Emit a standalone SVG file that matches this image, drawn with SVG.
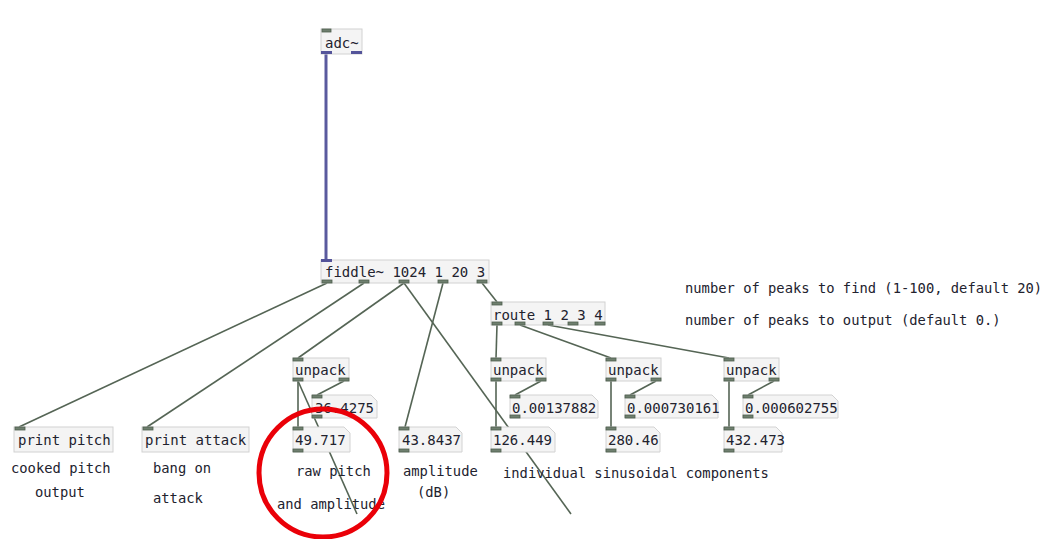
<svg xmlns="http://www.w3.org/2000/svg" width="1047" height="539" viewBox="0 0 1047 539">
  <style>
    .box { fill: #f4f4f4; stroke: #d2d2d2; stroke-width: 1; }
    .num { fill: #f4f4f4; stroke: #d2d2d2; stroke-width: 1; }
    .io { fill: #6f7f6f; stroke: #4f5f4f; stroke-width: 0.8; }
    .sig { fill: #54549a; }
    .t { font-family: "DejaVu Sans Mono", "Liberation Mono", monospace; font-size: 14px; fill: #22222e; }
    .c { font-size: 13.8px; }
    .wire { stroke: #556555; stroke-width: 1.6; fill: none; }
    .swire { stroke: #5a5a9e; stroke-width: 3; fill: none; }
  </style>

  <rect width="1047" height="539" fill="#ffffff"/>

  <!-- connectors -->
  <g id="connectors">
    <line class="swire" x1="326" y1="54" x2="326" y2="261"/>
    <line class="wire" x1="327" y1="283" x2="19" y2="427"/>
    <line class="wire" x1="364" y1="283" x2="147" y2="427"/>
    <line class="wire" x1="404" y1="283" x2="298" y2="358"/>
    <line class="wire" x1="404" y1="283" x2="571" y2="514"/>
    <line class="wire" x1="443" y1="283" x2="405" y2="427"/>
    <line class="wire" x1="482" y1="283" x2="497" y2="302"/>
    <line class="wire" x1="298" y1="381" x2="298" y2="427"/>
    <line class="wire" x1="344" y1="381" x2="317" y2="395"/>
    <line class="wire" x1="298" y1="381" x2="357" y2="514"/>
    <line class="wire" x1="497" y1="325" x2="496" y2="358"/>
    <line class="wire" x1="520" y1="325" x2="611" y2="358"/>
    <line class="wire" x1="548" y1="325" x2="729" y2="358"/>
    <line class="wire" x1="496" y1="381" x2="496" y2="427"/>
    <line class="wire" x1="541" y1="381" x2="515" y2="395"/>
    <line class="wire" x1="611" y1="381" x2="611" y2="427"/>
    <line class="wire" x1="656" y1="381" x2="630" y2="395"/>
    <line class="wire" x1="729" y1="381" x2="729" y2="427"/>
    <line class="wire" x1="774" y1="381" x2="748" y2="395"/>
  </g>

  <!-- adc~ -->
  <g id="adc">
    <rect class="box" x="321" y="29" width="41" height="25"/>
    <rect class="io" x="322" y="29" width="9" height="3"/>
    <rect class="sig" x="321" y="51" width="11" height="3"/>
    <rect class="sig" x="351" y="51" width="11" height="3"/>
    <text class="t" x="325" y="48">adc~</text>
  </g>

  <!-- fiddle~ -->
  <g id="fiddle">
    <rect class="box" x="321" y="260" width="168" height="23"/>
    <rect class="sig" x="321" y="259" width="11" height="3"/>
    <rect class="io" x="322" y="280" width="10" height="3"/>
    <rect class="io" x="359" y="280" width="10" height="3"/>
    <rect class="io" x="399" y="280" width="10" height="3"/>
    <rect class="io" x="438" y="280" width="10" height="3"/>
    <rect class="io" x="477" y="280" width="10" height="3"/>
    <text class="t" x="325" y="277">fiddle~ 1024 1 20 3</text>
  </g>

  <!-- route -->
  <g id="route">
    <rect class="box" x="491" y="302" width="114" height="23"/>
    <rect class="io" x="492" y="302" width="10" height="3"/>
    <rect class="io" x="492" y="322" width="10" height="3"/>
    <rect class="io" x="515" y="322" width="10" height="3"/>
    <rect class="io" x="543" y="322" width="10" height="3"/>
    <rect class="io" x="568" y="322" width="10" height="3"/>
    <rect class="io" x="595" y="322" width="10" height="3"/>
    <text class="t" x="493" y="320">route 1 2 3 4</text>
  </g>

  <!-- unpack objects -->
  <g id="unpack1">
    <rect class="box" x="293" y="358" width="56" height="23"/>
    <rect class="io" x="293" y="358" width="10" height="3"/>
    <rect class="io" x="293" y="378" width="10" height="3"/>
    <rect class="io" x="339" y="378" width="10" height="3"/>
    <text class="t" x="295" y="375">unpack</text>
  </g>
  <g id="unpack2">
    <rect class="box" x="491" y="358" width="55" height="23"/>
    <rect class="io" x="491" y="358" width="10" height="3"/>
    <rect class="io" x="491" y="378" width="10" height="3"/>
    <rect class="io" x="536" y="378" width="10" height="3"/>
    <text class="t" x="493" y="375">unpack</text>
  </g>
  <g id="unpack3">
    <rect class="box" x="606" y="358" width="55" height="23"/>
    <rect class="io" x="606" y="358" width="10" height="3"/>
    <rect class="io" x="606" y="378" width="10" height="3"/>
    <rect class="io" x="651" y="378" width="10" height="3"/>
    <text class="t" x="608" y="375">unpack</text>
  </g>
  <g id="unpack4">
    <rect class="box" x="724" y="358" width="55" height="23"/>
    <rect class="io" x="724" y="358" width="10" height="3"/>
    <rect class="io" x="724" y="378" width="10" height="3"/>
    <rect class="io" x="769" y="378" width="10" height="3"/>
    <text class="t" x="726" y="375">unpack</text>
  </g>

  <!-- number boxes (upper row) -->
  <g id="num-amp1">
    <polygon class="num" points="312,395 371,395 377,401 377,418 312,418"/>
    <rect class="io" x="312" y="395" width="10" height="3"/>
    <rect class="io" x="312" y="415" width="10" height="3"/>
    <text class="t" x="315" y="413">36.4275</text>
  </g>
  <g id="num-amp2">
    <polygon class="num" points="510,395 592,395 598,401 598,418 510,418"/>
    <rect class="io" x="510" y="395" width="10" height="3"/>
    <rect class="io" x="510" y="415" width="10" height="3"/>
    <text class="t" x="512" y="413">0.00137882</text>
  </g>
  <g id="num-amp3">
    <polygon class="num" points="625,395 712,395 718,401 718,418 625,418"/>
    <rect class="io" x="625" y="395" width="10" height="3"/>
    <rect class="io" x="625" y="415" width="10" height="3"/>
    <text class="t" x="627" y="413">0.000730161</text>
  </g>
  <g id="num-amp4">
    <polygon class="num" points="743,395 832,395 838,401 838,418 743,418"/>
    <rect class="io" x="743" y="395" width="10" height="3"/>
    <rect class="io" x="743" y="415" width="10" height="3"/>
    <text class="t" x="745" y="413">0.000602755</text>
  </g>

  <!-- number boxes (lower row) -->
  <g id="num-pitch">
    <polygon class="num" points="293,427 344,427 350,433 350,452 293,452"/>
    <rect class="io" x="293" y="427" width="10" height="3"/>
    <rect class="io" x="293" y="449" width="10" height="3"/>
    <text class="t" x="295" y="445">49.717</text>
  </g>
  <g id="num-db">
    <polygon class="num" points="399,427 456,427 462,433 462,452 399,452"/>
    <rect class="io" x="399" y="427" width="10" height="3"/>
    <rect class="io" x="399" y="449" width="10" height="3"/>
    <text class="t" x="402" y="445">43.8437</text>
  </g>
  <g id="num-freq1">
    <polygon class="num" points="491,427 549,427 555,433 555,452 491,452"/>
    <rect class="io" x="491" y="427" width="10" height="3"/>
    <rect class="io" x="491" y="449" width="10" height="3"/>
    <text class="t" x="493" y="445">126.449</text>
  </g>
  <g id="num-freq2">
    <polygon class="num" points="606,427 654,427 660,433 660,452 606,452"/>
    <rect class="io" x="606" y="427" width="10" height="3"/>
    <rect class="io" x="606" y="449" width="10" height="3"/>
    <text class="t" x="608" y="445">280.46</text>
  </g>
  <g id="num-freq3">
    <polygon class="num" points="724,427 776,427 782,433 782,452 724,452"/>
    <rect class="io" x="724" y="427" width="10" height="3"/>
    <rect class="io" x="724" y="449" width="10" height="3"/>
    <text class="t" x="726" y="445">432.473</text>
  </g>

  <!-- print objects -->
  <g id="print-pitch">
    <rect class="box" x="14" y="427" width="99" height="25"/>
    <rect class="io" x="15" y="427" width="10" height="3"/>
    <text class="t" x="18" y="445">print pitch</text>
  </g>
  <g id="print-attack">
    <rect class="box" x="142" y="427" width="107" height="25"/>
    <rect class="io" x="143" y="427" width="10" height="3"/>
    <text class="t" x="145" y="445">print attack</text>
  </g>

  <!-- comments -->
  <g id="comments">
    <text class="t c" x="11" y="473">cooked pitch</text>
    <text class="t c" x="35" y="497">output</text>
    <text class="t c" x="153" y="473">bang on</text>
    <text class="t c" x="153" y="503">attack</text>
    <text class="t c" x="296" y="476">raw pitch</text>
    <text class="t c" x="277" y="509">and amplitude</text>
    <text class="t c" x="403" y="476">amplitude</text>
    <text class="t c" x="417" y="497">(dB)</text>
    <text class="t c" x="503" y="478">individual sinusoidal components</text>
    <text class="t c" x="685" y="293">number of peaks to find (1-100, default 20)</text>
    <text class="t c" x="685" y="325">number of peaks to output (default 0.)</text>
  </g>

  <!-- highlight ring -->
  <circle id="highlight" cx="323" cy="473" r="64" fill="none" stroke="#ea0008" stroke-width="5"/>
</svg>
